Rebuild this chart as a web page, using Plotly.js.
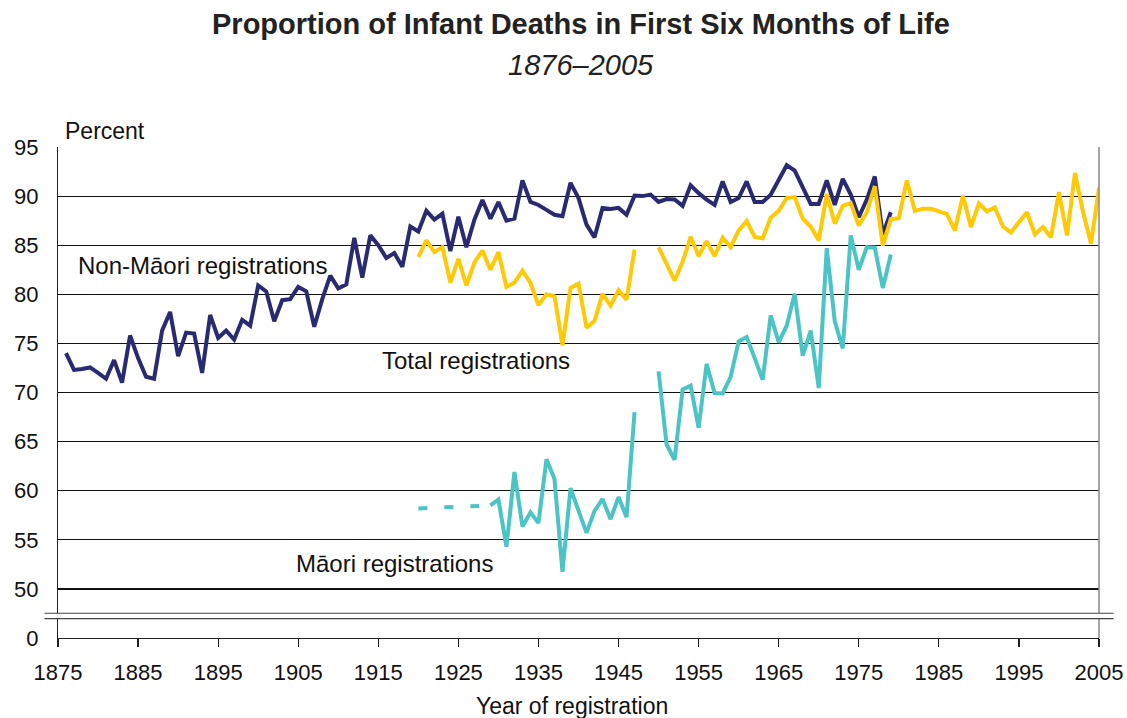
<!DOCTYPE html>
<html>
<head>
<meta charset="utf-8">
<script src="https://cdn.plot.ly/plotly-3.0.1.min.js"></script>
<style>html,body{margin:0;padding:0;background:#fff;}#chart{width:1127px;height:718px;}</style>
</head>
<body>
<div id="chart"></div>
<script>
// ---- Data (percent) ----
const nonMaoriStartYear = 1876;
const nonMaoriValues = [
 74.0,72.3,72.4,72.55,72.0,71.4,73.3,71.0,75.8,73.5,
 71.6,71.4,76.3,78.2,73.7,76.1,76.0,72.0,77.9,75.55,
 76.3,75.4,77.4,76.8,80.9,80.3,77.25,79.4,79.5,80.75,
 80.3,76.7,79.5,81.9,80.6,81.0,85.75,81.7,86.0,85.0,
 83.7,84.2,82.8,86.9,86.4,88.5,87.6,88.2,84.4,87.9,
 84.8,87.6,89.6,87.7,89.4,87.5,87.7,91.6,89.4,89.1,
 88.6,88.1,87.95,91.35,89.8,87.1,85.8,88.8,88.7,88.8,
 88.1,90.05,90.0,90.15,89.4,89.7,89.65,89.0,91.1,90.3,
 89.65,89.1,91.5,89.4,89.8,91.5,89.4,89.4,90.15,91.7,
 93.15,92.6,91.0,89.2,89.2,91.6,89.1,91.75,90.15,87.85,
 89.65,92.0,86.1,88.35
];
const totalStartYear = 1920;
const totalValues = [
 83.8,85.5,84.3,84.8,81.2,83.6,80.9,83.25,84.45,82.5,
 84.3,80.75,81.2,82.4,81.15,78.9,80.0,79.8,74.8,80.65,
 81.1,76.6,77.3,80.05,78.85,80.4,79.45,84.55,null,null,
 84.8,83.1,81.4,83.3,85.85,83.9,85.4,83.9,85.75,84.8,
 86.5,87.45,85.85,85.7,87.8,88.5,89.8,89.9,87.7,86.9,
 85.5,90.2,87.2,89.0,89.3,87.0,88.35,91.0,84.95,87.65,
 87.75,91.6,88.5,88.7,88.7,88.45,88.2,86.5,90.05,86.85,
 89.25,88.45,88.85,86.9,86.3,87.35,88.35,86.1,86.85,85.8,
 90.4,86.0,92.35,88.4,85.15,90.85
];
const maoriStartYear = 1929;
const maoriValues = [
 58.5,59.1,54.3,61.9,56.35,57.8,56.7,63.2,61.2,51.75,
 60.25,58.05,55.7,57.95,59.15,57.1,59.35,57.3,68.0,null,
 null,72.15,64.7,63.15,70.3,70.7,66.4,72.9,69.95,69.9,
 71.6,75.2,75.65,73.5,71.3,77.85,75.1,76.8,80.05,73.75,
 76.3,70.45,84.7,77.25,74.5,86.0,82.5,84.8,84.75,80.65,
 84.05
];
const maoriDashedYears = [1920, 1929];
const maoriDashedValues = [58.2, 58.5];

const xTickYears = [1875,1885,1895,1905,1915,1925,1935,1945,1955,1965,1975,1985,1995,2005];
const yTickVals = [45,50,55,60,65,70,75,80,85,90,95];
const yTickText = ['0','50','55','60','65','70','75','80','85','90','95'];

const yearsFrom = (start, arr) => arr.map((_, i) => start + i);

const FONT = 'Liberation Sans, Arial, Helvetica, sans-serif';
const NAVY = '#2a2a72', YELLOW = '#ffc905', TEAL = '#4cc4c6';

const traces = [
 {x: yearsFrom(nonMaoriStartYear, nonMaoriValues), y: nonMaoriValues, mode:'lines',
  line:{color:NAVY,width:4}, connectgaps:false, hoverinfo:'x+y'},
 {x: yearsFrom(totalStartYear, totalValues), y: totalValues, mode:'lines',
  line:{color:YELLOW,width:4}, connectgaps:false},
 {x: maoriDashedYears, y: maoriDashedValues, mode:'lines',
  line:{color:TEAL,width:4,dash:'9px,17px'}},
 {x: yearsFrom(maoriStartYear, maoriValues), y: maoriValues, mode:'lines',
  line:{color:TEAL,width:4}, connectgaps:false}
];

const layout = {
 width:1127, height:718,
 margin:{l:58, r:28, t:147, b:80},
 paper_bgcolor:'#fff', plot_bgcolor:'#fff',
 showlegend:false,
 font:{family:FONT, size:22, color:'#111'},
 xaxis:{range:[1875,2005], tickvals:xTickYears, ticks:'outside', ticklen:8, tickwidth:1.2,
   tickcolor:'#222', showgrid:false, zeroline:false, showline:true, linecolor:'#222', linewidth:1.2,
   tickfont:{size:22, family:FONT, color:'#111'}, ticklabelstandoff:6},
 yaxis:{range:[45,95], tickvals:yTickVals, ticktext:yTickText, ticks:'', showgrid:true,
   gridcolor:'#111', gridwidth:1.2, zeroline:false, showline:true, linecolor:'#222', linewidth:1.2,
   tickfont:{size:22, family:FONT, color:'#111'}, ticklabelstandoff:14},
 shapes:[
  {type:'line', xref:'paper', yref:'paper', x0:1, x1:1, y0:0, y1:1, line:{color:'#888',width:1.5}},
  {type:'rect', xref:'paper', yref:'paper', x0:-0.013, x1:1.014, y0:0.0393, y1:0.0504,
   fillcolor:'#fff', line:{width:0}},
  {type:'line', xref:'paper', yref:'paper', x0:-0.013, x1:1.014, y0:0.0504, y1:0.0504, line:{color:'#444',width:1.2}},
  {type:'line', xref:'paper', yref:'paper', x0:-0.013, x1:1.014, y0:0.0393, y1:0.0393, line:{color:'#444',width:1.2}}
 ],
 annotations:[
  {text:'<b>Proportion of Infant Deaths in First Six Months of Life</b>', xref:'paper', yref:'paper',
   x:0.5022, y:1.2505, xanchor:'center', yanchor:'middle', showarrow:false, font:{size:29, family:FONT, color:'#222'}},
  {text:'<i>1876–2005</i>', xref:'paper', yref:'paper', x:0.5022, y:1.167, xanchor:'center', yanchor:'middle',
   showarrow:false, font:{size:29, family:FONT, color:'#222'}},
  {text:'Percent', xref:'paper', yref:'paper', x:0.0454, y:1.0326, xanchor:'center', yanchor:'middle',
   showarrow:false, font:{size:23, family:FONT, color:'#111'}},
  {text:'Year of registration', xref:'paper', yref:'paper', x:0.494, y:-0.1385, xanchor:'center', yanchor:'middle',
   showarrow:false, font:{size:23, family:FONT, color:'#111'}},
  {text:'Non-Māori registrations', xref:'x', yref:'y', x:1893.1, y:82.98, xanchor:'center', yanchor:'middle',
   showarrow:false, font:{size:24, family:FONT, color:'#111'}},
  {text:'Total registrations', xref:'x', yref:'y', x:1927.17, y:73.29, xanchor:'center', yanchor:'middle',
   showarrow:false, font:{size:24, family:FONT, color:'#111'}},
  {text:'Māori registrations', xref:'x', yref:'y', x:1917.0, y:52.6, xanchor:'center', yanchor:'middle',
   showarrow:false, font:{size:24, family:FONT, color:'#111'}}
 ]
};

Plotly.newPlot('chart', traces, layout, {displayModeBar:false, staticPlot:true});
</script>
</body>
</html>
